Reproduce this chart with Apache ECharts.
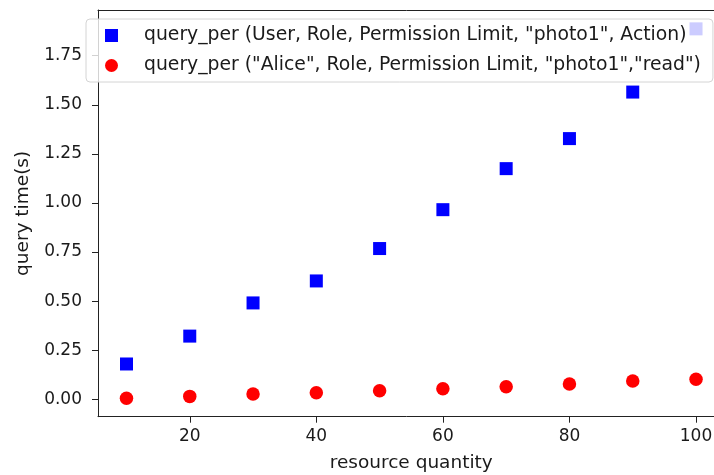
<!DOCTYPE html>
<html>
<head>
<meta charset="utf-8">
<script src="https://cdn.jsdelivr.net/npm/echarts@6/dist/echarts.min.js"></script>
<style>html,body{margin:0;padding:0;background:#fff}#c{width:714px;height:475px}</style>
</head>
<body>
<div id="c"></div>
<script>
const quantities = [10, 20, 30, 40, 50, 60, 70, 80, 90, 100];
const seriesUserAction = [0.180, 0.322, 0.491, 0.603, 0.768, 0.966, 1.175, 1.328, 1.565, 1.887];
const seriesAliceRead = [0.005, 0.015, 0.027, 0.034, 0.044, 0.054, 0.064, 0.078, 0.093, 0.102];
const seriesNames = [
  'query_per (User, Role, Permission Limit, "photo1", Action)',
  'query_per ("Alice", Role, Permission Limit, "photo1","read")'
];
const xTicks = [20, 40, 60, 80, 100];
const yTicks = [0, 0.25, 0.5, 0.75, 1.0, 1.25, 1.5, 1.75];

const font = 'DejaVu Sans';
const txt = '#1a1a1a';
const spine = '#222';
const xMin = 5.5, xMax = 104.5;

const chart = echarts.init(document.getElementById('c'), null, {renderer: 'canvas'});
chart.setOption({
  animation: false,
  backgroundColor: '#fff',
  grid: {
    left: 98, top: 10, width: 626.5, height: 406.7,
    outerBoundsMode: 'none', containLabel: false, show: false
  },
  legend: {
    orient: 'vertical',
    left: 86, top: 19,
    padding: [6, 12, 6, 19],
    itemGap: 9,
    itemWidth: 13, itemHeight: 13,
    backgroundColor: 'rgba(255,255,255,0.8)',
    borderColor: '#d4d4d4', borderWidth: 1, borderRadius: 4,
    textStyle: {fontFamily: font, fontSize: 18.8, color: txt, lineHeight: 21, padding: [0, 0, 0, 21]},
    data: [
      {name: seriesNames[0], icon: 'rect'},
      {name: seriesNames[1], icon: 'circle'}
    ]
  },
  xAxis: [{
    type: 'value', min: xMin, max: xMax, position: 'bottom',
    name: 'resource quantity', nameLocation: 'middle', nameGap: 37,
    nameTextStyle: {fontFamily: font, fontSize: 18.5, color: txt},
    splitLine: {show: false},
    axisLine: {show: true, onZero: false, lineStyle: {color: spine, width: 1}},
    axisTick: {show: true, length: 6, lineStyle: {color: spine, width: 1}, customValues: xTicks},
    axisLabel: {fontFamily: font, fontSize: 17, color: txt, margin: 11, customValues: xTicks}
  }, {
    type: 'value', min: xMin, max: xMax, position: 'top',
    splitLine: {show: false},
    axisLine: {show: true, onZero: false, lineStyle: {color: spine, width: 1}},
    axisTick: {show: false}, axisLabel: {show: false}
  }],
  yAxis: {
    type: 'value', min: -0.0885, max: 1.983,
    name: 'query time(s)', nameLocation: 'middle', nameGap: 65, nameRotate: 90,
    nameTextStyle: {fontFamily: font, fontSize: 18.5, color: txt},
    splitLine: {show: false},
    axisLine: {show: true, onZero: false, lineStyle: {color: spine, width: 1}},
    axisTick: {show: true, length: 6, lineStyle: {color: spine, width: 1}, customValues: yTicks},
    axisLabel: {fontFamily: font, fontSize: 17, color: txt, margin: 16, customValues: yTicks,
      formatter: v => v.toFixed(2)}
  },
  series: [
    {
      name: seriesNames[0], type: 'scatter', symbol: 'rect', symbolSize: 13,
      itemStyle: {color: '#0000ff', opacity: 1},
      data: quantities.map((q, i) => [q, seriesUserAction[i]])
    },
    {
      name: seriesNames[1], type: 'scatter', symbol: 'circle', symbolSize: 13.5,
      itemStyle: {color: '#ff0000', opacity: 1},
      data: quantities.map((q, i) => [q, seriesAliceRead[i]])
    }
  ]
});
</script>
</body>
</html>
